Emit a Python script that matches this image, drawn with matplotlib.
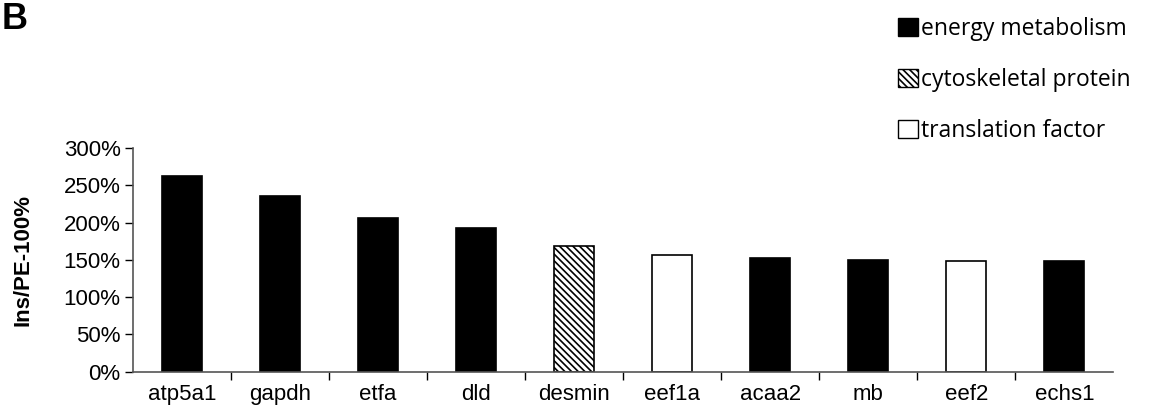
import matplotlib.pyplot as plt
from matplotlib.patches import Patch
from matplotlib.ticker import PercentFormatter

genes = ['atp5a1', 'gapdh', 'etfa', 'dld', 'desmin', 'eef1a', 'acaa2', 'mb', 'eef2', 'echs1']
values = [262, 235, 206, 192, 168, 157, 152, 150, 148, 148]  # Ins/PE - 100, in %
groups = ['energy', 'energy', 'energy', 'energy', 'cyto', 'trans', 'energy', 'energy', 'trans', 'energy']

group_labels = {'energy': 'energy metabolism',
                'cyto': 'cytoskeletal protein',
                'trans': 'translation factor'}
group_style = {'energy': dict(facecolor='black', hatch=None),
               'cyto': dict(facecolor='white', hatch='\\\\\\\\\\'),
               'trans': dict(facecolor='white', hatch=None)}

plt.rcParams['hatch.linewidth'] = 1.2
fig = plt.figure(figsize=(11.52, 4.18), dpi=100)
ax = fig.add_axes([0.1155, 0.111, 0.851, 0.535])

x = range(len(genes))
for i, (v, g) in enumerate(zip(values, groups)):
    st = group_style[g]
    ax.bar(i, v, width=0.41, facecolor=st['facecolor'], hatch=st['hatch'],
           edgecolor='black', linewidth=1.2)

ax.set_xlim(-0.5, len(genes) - 0.5)
ax.set_ylim(0, 300)
ax.set_yticks(range(0, 301, 50))
ax.yaxis.set_major_formatter(PercentFormatter(decimals=0))
ax.set_xticks(list(x))
ax.set_xticklabels(genes, fontsize=16, family='Liberation Sans')
ax.tick_params(axis='x', length=0, pad=9)
ax.set_xticks([i + 0.5 for i in range(len(genes) - 1)], minor=True)
ax.tick_params(axis='x', which='minor', length=6, width=1, direction='out')
ax.tick_params(axis='y', length=6, width=1, direction='out', labelsize=16, pad=3)
for lab in ax.get_yticklabels():
    lab.set_family('Liberation Sans')
ax.set_ylabel('Ins/PE-100%', fontsize=16, fontweight='bold', family='Liberation Sans', labelpad=22)

for s in ['top', 'right']:
    ax.spines[s].set_visible(False)
ax.spines['left'].set_color('#555555')
ax.spines['bottom'].set_color('#555555')
ax.spines['left'].set_linewidth(1.2)
ax.spines['bottom'].set_linewidth(1.2)

handles = [Patch(facecolor=group_style[k]['facecolor'], hatch=group_style[k]['hatch'],
                 edgecolor='black', label=group_labels[k]) for k in ['energy', 'cyto', 'trans']]
fig.legend(handles=handles, loc='upper left', bbox_to_anchor=(0.762, 1.008),
           frameon=False, handlelength=0.85, handleheight=0.85, handletextpad=0.15,
           labelspacing=1.17, prop={'family': 'Open Sans', 'size': 16.5})

fig.text(0.001, 0.995, 'B', fontsize=26, fontweight='bold', family='Liberation Sans',
         ha='left', va='top')

fig.savefig('out.png', dpi=100)
